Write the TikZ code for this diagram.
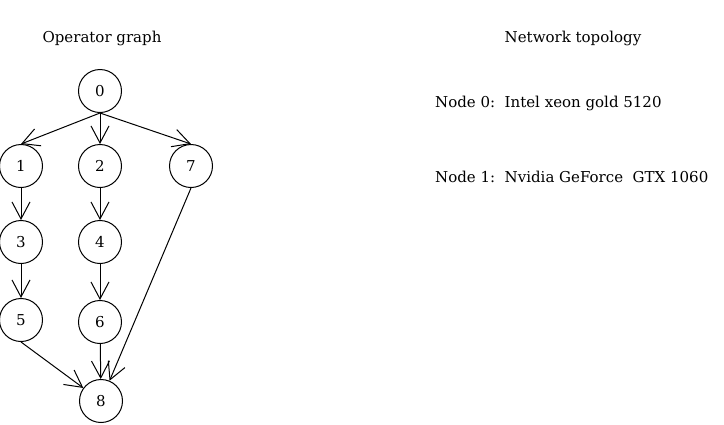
\documentclass[tikz,border=0pt]{standalone}
\usepackage{fontspec}
\setmainfont{DejaVu Serif}
\usetikzlibrary{arrows.meta}
\begin{document}
\begin{tikzpicture}[x=1pt,y=-1pt,
  opnode/.style={draw,circle,minimum size=43pt,inner sep=0pt,line width=1pt,font=\fontsize{15}{17}\selectfont},
  edge/.style={draw,line width=1pt,-{Straight Barb[length=17pt,width=18pt,line width=1pt]}},
  lbl/.style={font=\fontsize{15}{17}\selectfont,inner sep=0pt}]
\useasboundingbox (0,0) rectangle (724,424);
\node[lbl] (t1) at (102,38) {Operator graph};
\node[lbl] (t2) at (573,38) {Network topology};
\node[lbl,anchor=west] (n0) at (435,103) {Node 0:\ \ Intel xeon gold 5120};
\node[lbl,anchor=west] (n1) at (435,177) {Node 1:\ \ Nvidia GeForce\ \ GTX 1060};
\node[opnode] (o0) at (100,91) {0};
\node[opnode] (o1) at (21,166) {1};
\node[opnode] (o2) at (100,166) {2};
\node[opnode] (o7) at (191,166) {7};
\node[opnode] (o3) at (21,242) {3};
\node[opnode] (o4) at (100,242) {4};
\node[opnode] (o5) at (21,320) {5};
\node[opnode] (o6) at (100,322) {6};
\node[opnode] (o8) at (101,401) {8};
\path[edge] (o0.south) -- (o1.north);
\path[edge] (o0.south) -- (o2.north);
\path[edge] (o0.south) -- (o7.north);
\path[edge] (o1) -- (o3);
\path[edge] (o3) -- (o5);
\path[edge] (o2) -- (o4);
\path[edge] (o4) -- (o6);
\path[edge] (o6) -- (o8);
\path[edge] (o5.south) -- (o8);
\path[edge] (o7.south) -- (o8);
\end{tikzpicture}
\end{document}
